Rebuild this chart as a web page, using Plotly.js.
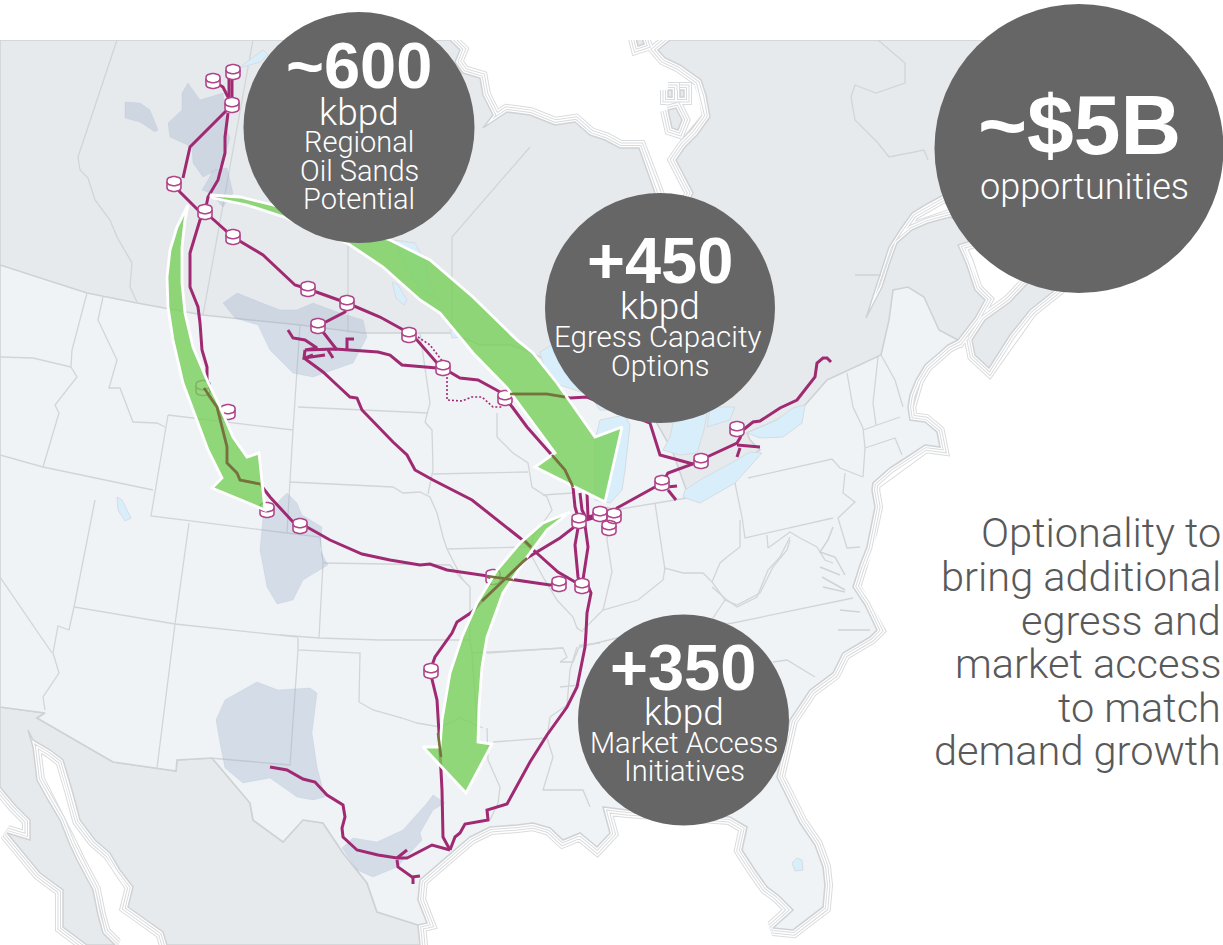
<!DOCTYPE html>
<html><head><meta charset="utf-8">
<script src="https://cdn.plot.ly/plotly-3.0.1.min.js"></script>
<style>html,body{margin:0;padding:0;background:#fff}#chart{width:1223px;height:945px}</style>
</head><body><div id="chart"></div>
<script>
// ---------- map geometry ----------
const landCanada=[[0,40],[450,40],[460,50],[455,62],[463,73],[480,78],[483,95],[493,115],[483,128],[507,112],[530,115],[555,125],[575,122],[590,135],[605,140],[620,148],[639,148],[647,170],[655,193],[672,235],[693,193],[676,160],[685,147],[697,135],[710,117],[706,95],[701,80],[680,65],[665,58],[658,50],[670,40],[1000,40],[1000,150],[947,193],[925,205],[912,213],[900,230],[889,247],[878,280],[866,318],[882,287],[890,262],[897,243],[912,230],[928,223],[950,217],[990,235],[958,245],[966,263],[975,290],[985,300],[975,318],[958,340],[920,340],[900,400],[760,470],[690,505],[600,450],[300,380],[0,300]];
const landNovaScotia=[[972,340],[975,355],[989,368],[1010,335],[1030,310],[1055,290],[1040,270],[1010,302],[985,320]];
const landIslandA=[[668,90],[672,90],[672,97],[668,97]];
const landIslandB=[[680,90],[684,90],[684,97],[680,97]];
const landIslandC=[[668,110],[676,108],[682,120],[678,130],[672,128]];
const landIslet=[[636,38],[642,38],[644,44],[638,46]];
const landUSA=[[0,265],[87,293],[137,303],[203,315],[300,325],[363,333],[452,333],[480,345],[510,345],[525,350],[540,357],[575,385],[610,375],[650,405],[655,420],[672,450],[687,492],[730,470],[760,450],[750,440],[747,433],[777,420],[805,405],[827,380],[881,355],[889,320],[893,290],[908,287],[924,297],[939,330],[958,340],[948,345],[939,353],[925,365],[916,380],[910,395],[908,407],[910,420],[925,422],[937,432],[940,447],[925,445],[907,457],[890,468],[873,483],[872,490],[875,507],[870,530],[867,547],[860,565],[853,587],[865,605],[877,630],[870,637],[843,653],[833,673],[810,690],[790,720],[777,777],[800,823],[815,845],[823,867],[825,885],[823,907],[793,930],[773,928],[793,910],[778,895],[767,887],[755,870],[742,850],[747,827],[730,817],[627,810],[603,807],[610,833],[597,847],[580,833],[563,840],[550,828],[533,823],[517,825],[490,827],[470,837],[455,850],[440,863],[420,880],[418,900],[427,923],[418,925],[377,912],[367,883],[343,853],[323,823],[303,820],[283,842],[253,820],[250,803],[212,758],[177,760],[176,771],[113,762],[37,718],[45,713],[0,707]];
const landMexico=[[0,707],[45,713],[37,718],[113,762],[176,771],[177,760],[212,758],[250,803],[253,820],[283,842],[303,820],[323,823],[343,853],[367,883],[377,912],[418,925],[420,945],[167,945],[163,932],[128,907],[133,887],[120,870],[110,853],[95,840],[80,820],[72,790],[63,760],[50,750],[33,740],[28,730],[33,747],[37,780],[48,800],[60,820],[70,845],[77,860],[93,890],[98,915],[103,933],[115,945],[87,945],[63,927],[63,890],[40,873],[7,833],[30,840],[30,820],[15,805],[0,787]];

const lakeAthabasca=[[240,67],[263,50],[268,55],[260,62],[243,67]];
const lakeWinnipeg=[[395,240],[415,243],[425,262],[430,285],[440,300],[420,290],[405,265]];
const lakeManitoba=[[392,282],[398,285],[407,300],[404,305],[396,298]];
const lakeOfWoods=[[450,330],[458,331],[461,337],[452,338]];
const lakeSuperior=[[540,352],[560,340],[640,340],[630,410],[600,410],[590,395],[560,385],[545,370]];
const lakeMichigan=[[600,420],[625,415],[630,425],[625,470],[622,490],[610,503],[595,500],[595,440]];
const lakeHuron=[[673,423],[707,413],[704,430],[697,453],[680,455],[663,450],[670,437]];
const lakeGeorgian=[[710,407],[735,407],[730,420],[707,427]];
const lakeErie=[[683,497],[700,503],[735,483],[762,453],[750,452],[733,462],[700,480],[685,490]];
const lakeOntario=[[747,433],[777,420],[793,408],[805,405],[802,423],[783,437],[760,438]];
const lakeSalt=[[117,497],[122,500],[131,518],[125,521],[118,510]];
const lakeOkeechobee=[[792,863],[797,858],[802,860],[803,870],[795,871]];

const basinPeace=[[125,102],[140,103],[150,110],[158,130],[155,132],[140,122],[125,118]];
const basinAthabasca=[[188,83],[200,100],[223,93],[227,130],[230,138],[225,155],[217,170],[203,177],[193,163],[192,147],[170,137],[168,123],[182,110],[182,93]];
const basinCold=[[213,170],[227,168],[233,193],[223,207],[210,193],[202,190],[208,180]];
const basinBakken=[[223,303],[237,293],[262,303],[280,310],[297,310],[313,303],[340,313],[363,320],[367,337],[353,363],[313,377],[293,373],[270,350],[258,325],[235,318]];
const basinPowder=[[287,493],[297,503],[302,515],[322,527],[320,550],[328,565],[303,580],[293,600],[277,604],[267,587],[260,550],[263,517],[275,505]];
const basinPermian=[[257,682],[278,690],[310,688],[317,693],[312,733],[317,767],[325,797],[313,800],[297,797],[270,778],[243,783],[225,768],[220,743],[216,720],[225,700]];
const basinEagleFord=[[433,795],[445,803],[433,810],[420,833],[422,840],[397,867],[373,877],[357,870],[342,848],[353,838],[377,842],[403,830],[427,803]];

const borderLines=[
 [[117,40],[78,157],[80,170],[88,178],[95,200],[110,220],[117,237],[132,263],[130,287],[137,302]],
 [[253,40],[203,315]],[[348,243],[348,333]],[[530,147],[452,237],[452,333]],
 [[878,40],[905,63],[905,83],[876,93],[855,85],[851,97],[855,120],[878,143],[889,157],[924,150],[928,160]],
 [[87,293],[72,350],[71,367],[77,377],[55,405],[59,413],[43,467]],[[0,357],[33,358],[71,367]],
 [[103,297],[98,320],[117,360],[109,388],[120,388],[133,422],[157,423],[165,427]],
 [[0,455],[43,467],[153,490]],[[168,415],[293,430]],[[168,415],[151,516],[287,533],[320,537],[323,563],[319,638]],
 [[300,325],[293,430],[287,533]],[[95,500],[74,607],[175,624],[298,637]],[[0,577],[52,653]],
 [[74,607],[69,630],[58,626],[53,653],[59,673],[43,697],[45,710]],[[189,523],[175,624],[157,768]],
 [[323,563],[450,565],[460,577],[470,587],[470,640]],[[280,635],[319,638],[380,640],[470,640],[472,653]],
 [[290,482],[393,487],[403,493],[420,492],[430,497],[437,513],[443,537],[447,549],[463,580]],
 [[298,407],[428,413]],[[420,333],[430,403],[425,422],[432,430],[433,470],[428,494]],[[433,474],[528,472]],
 [[447,549],[527,547]],[[497,413],[497,437],[513,453],[528,463],[532,487],[547,497],[552,510],[533,537],[530,553],[543,577],[557,600],[573,617],[577,628],[583,632]],
 [[543,495],[573,493]],[[607,507],[607,540],[612,572],[603,610],[583,630]],
 [[472,653],[563,648],[567,657],[560,662],[573,662],[580,645],[600,643]],
 [[298,638],[298,650],[360,653],[359,702],[373,710],[402,718],[417,723],[440,727],[460,718],[483,728]],[[298,650],[290,765],[210,758]],
 [[472,653],[477,723]],[[487,653],[563,648]],[[493,742],[547,738]],
 [[487,728],[488,760],[500,787],[498,803],[490,820]],[[547,738],[553,757],[543,790],[583,790],[590,807]],
 [[547,738],[550,717],[567,705],[570,670],[577,647]],[[560,687],[580,685]],[[580,647],[617,638],[733,623],[853,598]],
 [[773,662],[787,660],[815,677]],
 [[603,610],[638,600],[663,580],[665,568],[683,573],[703,573],[712,582],[725,600],[737,605],[760,593],[773,567],[787,550],[790,540]],
 [[725,600],[713,618]],[[712,582],[720,563],[727,557],[740,547],[740,520]],
 [[735,483],[742,517],[745,538],[833,518]],[[748,478],[832,459],[840,468],[863,477]],[[845,473],[843,493],[855,502],[838,518],[847,548],[860,547]],
 [[767,535],[768,548],[790,532],[800,538],[817,547],[825,560],[833,563]],
 [[790,537],[780,557],[768,570],[757,597],[737,607],[727,600],[712,587]],
 [[863,477],[865,448],[863,428],[853,407],[847,373]],[[878,357],[873,403],[876,425]],[[863,430],[900,417]],[[865,448],[895,438],[902,455]],[[881,355],[895,380],[903,407]],
 [[655,503],[665,570]],[[615,510],[655,503],[687,498]],[[607,507],[615,510]]
];
const coastInlets=[[[833,527],[828,540],[820,552],[835,557],[845,575]],[[820,567],[840,575]],[[822,577],[845,590]],[[823,587],[845,592]],[[840,610],[860,612]],[[838,630],[870,630]],[[855,275],[881,275]]];

// ---------- pipelines ----------
const pipeNorthA=[[232,105],[190,147],[183,178]];
const pipeNorthB=[[228,113],[225,137],[225,153],[218,180],[208,197],[205,212]];
const pipeNorthC=[[213,81],[223,87],[228,97],[231,105]];
const pipeNorthD=[[229,78],[229,105]];
const pipeNorthE=[[232,78],[232,105]];
const pipeHardisty=[[174,184],[180,192],[198,210],[205,212]];
const pipeMainline=[[205,212],[233,237],[263,255],[295,285],[308,289],[347,303],[380,317],[409,333]];
const pipeExpress=[[205,212],[200,220],[190,253],[190,287],[198,307],[200,323],[202,350],[207,367],[207,383],[203,388],[217,407],[227,447],[227,463],[237,473],[240,480],[260,484],[270,497],[280,508],[293,522],[307,527],[330,540],[362,554],[390,560],[420,565],[430,564],[447,570],[487,576],[493,577],[513,580],[550,585],[559,584]];
const pipeLinkA=[[347,303],[345,312],[318,326],[323,332],[337,350]];
const pipeBakken=[[288,330],[293,338],[305,340],[317,348],[305,350],[335,349],[378,352],[390,355],[402,365],[437,368]];
const stubBakkenA=[[305,350],[304,358],[325,355]];
const stubBakkenB=[[305,358],[313,355]];
const stubBakkenC=[[333,358],[328,350]];
const stubBakkenD=[[347,350],[347,339],[354,339]];
const pipeKeystone=[[304,358],[317,367],[323,372],[337,385],[350,397],[357,398],[362,410],[393,442],[407,455],[415,470],[433,480],[472,500],[520,538],[530,547],[558,572],[582,586]];
const pipeGretnaA=[[409,333],[417,340],[437,363],[443,368]];
const pipeClearbrook=[[443,368],[460,378],[478,380],[502,393],[505,398]];
const pipeLine5=[[505,398],[510,394],[547,394],[570,398],[587,397],[650,423],[660,455],[693,464]];
const pipeLine61=[[505,398],[513,408],[527,427],[550,453],[565,470],[573,487],[575,507],[578,517]];
const pipeChiA=[[580,493],[582,510],[586,518]];
const pipeChiB=[[587,493],[588,517],[600,514]];
const pipeChiC=[[586,520],[593,518],[600,514]];
const pipeChiD=[[578,528],[575,545],[578,577],[582,586]];
const pipeChiE=[[585,525],[588,547],[582,586]];
const pipeEast=[[614,516],[617,508],[655,487],[662,483],[668,473],[693,464],[701,461],[707,457],[737,443],[740,438],[743,430],[753,422],[760,421],[780,408],[797,400],[815,377],[817,363],[823,358],[827,358],[831,362]];
const stubOntA=[[737,445],[760,447]];
const stubOntB=[[740,448],[737,457]];
const stubSarniaA=[[667,487],[677,486]];
const stubSarniaB=[[668,490],[676,500]];
const pipeOzark=[[579,521],[573,528],[560,538],[543,548],[527,558],[507,577],[480,603],[472,612],[457,622],[452,633],[435,657],[430,671],[432,680],[437,700],[439,733],[442,790],[443,837],[450,850]];
const pipeTexasWest=[[450,850],[432,845],[407,858],[397,858],[378,855],[357,850],[343,837],[342,828],[345,817],[343,805],[327,795],[315,782],[303,779],[287,770],[270,767]];
const stubCorpusA=[[397,858],[407,850]];
const stubCorpusB=[[397,860],[398,867],[412,877],[420,876]];
const stubCorpusC=[[413,877],[413,884]];
const pipeGulf=[[450,850],[455,837],[460,833],[465,824],[488,820],[487,810],[507,804],[530,762],[547,735],[567,707],[577,687],[585,647],[586,633],[587,613],[591,593],[588,586]];
const pipeDashA=[[418,337],[430,345],[443,362]];
const pipeDashB=[[447,377],[447,400],[462,401],[472,397],[482,397],[493,407],[502,407]];
const pipesUnderArrows=[[[204,388],[217,407],[227,447],[227,463],[237,473],[240,480],[260,484]],[[510,394],[547,394],[565,397]],[[552,455],[565,470],[573,487]],[[438,733],[441,757]],[[527,558],[507,577],[482,601]],[[487,576],[513,580]],[[525,541],[531,547]]];

const terminals=[[213,81],[233,72],[232,105],[174,184],[205,212],[233,237],[308,289],[347,303],[318,326],[409,335],[443,368],[505,398],[203,388],[228,412],[267,510],[300,526],[493,577],[559,584],[582,586],[579,521],[600,514],[614,516],[609,528],[662,483],[701,461],[737,429],[431,671]];

// ---------- arrows ----------
const arrowWest=[[188,205],[177,227],[170,250],[167,277],[168,307],[173,340],[183,383],[197,420],[208,450],[222,478],[212,488],[265,510],[259,453],[247,457],[233,437],[220,407],[207,380],[193,347],[185,313],[182,283],[182,247],[185,220]];
const arrowEast=[[210,195],[240,197],[273,205],[330,222],[390,240],[430,260],[473,297],[517,340],[533,353],[557,383],[595,437],[622,427],[605,502],[535,467],[555,453],[533,423],[507,388],[473,353],[440,313],[420,300],[383,267],[347,243],[317,232],[287,218],[247,205],[213,198]];
const arrowSouth=[[570,512],[543,523],[520,543],[497,570],[477,603],[462,637],[450,673],[442,720],[440,747],[423,747],[466,793],[492,744],[478,742],[479,707],[482,667],[487,637],[503,593],[527,557],[547,530]];

// ---------- callouts ----------
const bubbleX=[359,660,1079,683.5];
const bubbleY=[127.5,308,148.5,720];
const bubbleD=[231,230,289,211];
const headlineText=['~600','+450','~$5B','+350'];
const headlineX=[359,660,1079,683];
const headlineY=[65,260,125,667];
const headlineSize=[65,65,84,65];
const subText=['kbpd','Regional','Oil Sands','Potential','kbpd','Egress Capacity','Options','opportunities','kbpd','Market Access','Initiatives'];
const subX=[359,359,359,359,660,657,660,1084,684,684,684];
const subY=[112,142,171,199,306,337,366,187,712,743,771];
const subSize=[37,29,29,29,37,29.5,29,36,37,29,29];
const noteText=['Optionality to','bring additional','egress and','market access','to match','demand growth'];
const noteY=[532,576,620,663,707,750];

// ---------- helpers ----------
function flat(list){const x=[],y=[];list.forEach((p,i)=>{if(i)(x.push(null),y.push(null));p.forEach(q=>{x.push(q[0]);y.push(q[1]);});});return {x,y};}
const closed=p=>p.concat([p[0]]);
const base={hoverinfo:'skip',showlegend:false,type:'scatter'};
function fillT(list,fill,line,w){const f=flat(list.map(closed));return Object.assign({},base,{x:f.x,y:f.y,mode:'lines',fill:'toself',fillcolor:fill,line:{color:line,width:w}});}
function lineT(list,color,w,dash){const f=flat(list);return Object.assign({},base,{x:f.x,y:f.y,mode:'lines',line:{color:color,width:w,dash:dash||'solid'}});}

const lands=[landCanada,landNovaScotia,landIslandA,landIslandB,landIslandC,landIslet];
const allCoast=lands.concat([landUSA,landMexico]).map(closed);
const ringGrey='#d9dbdd';
const traces=[];
[[16,ringGrey],[14,'#fff'],[11,ringGrey],[9,'#fff'],[6,ringGrey],[4,'#fff']].forEach(r=>traces.push(lineT(allCoast,r[1],r[0])));
traces.push(fillT([landMexico],'#e7eaed','#cfd2d5',1.5));
traces.push(fillT(lands,'#e7eaed','#cfd2d5',1.5));
traces.push(fillT([landUSA],'#eff3f6','#cfd2d5',1.6));
traces.push(lineT(borderLines,'#d2d5d8',1.3));
traces.push(lineT(coastInlets,'#d0d3d6',1.5));
traces.push(fillT([lakeAthabasca,lakeWinnipeg,lakeManitoba,lakeOfWoods,lakeSuperior,lakeMichigan,lakeHuron,lakeGeorgian,lakeErie,lakeOntario,lakeSalt,lakeOkeechobee],'#d9eefb','#d5dce2',1));
traces.push(fillT([basinPeace,basinAthabasca,basinCold,basinBakken,basinPowder,basinPermian,basinEagleFord],'rgba(150,170,200,0.3)','rgba(150,170,200,0.15)',1));
traces.push(Object.assign({},base,{x:[0,1223,1223,0,0],y:[0,0,40,40,0],mode:'lines',fill:'toself',fillcolor:'#fff',line:{width:0,color:'#fff'}}));
const pipeColor='#a02a72';
traces.push(lineT([pipeNorthA,pipeNorthB,pipeNorthC,pipeNorthD,pipeNorthE,pipeHardisty,pipeMainline,pipeExpress,pipeLinkA,pipeBakken,stubBakkenA,stubBakkenB,stubBakkenC,stubBakkenD,pipeKeystone,pipeGretnaA,pipeClearbrook,pipeLine5,pipeLine61,pipeChiA,pipeChiB,pipeChiC,pipeChiD,pipeChiE,pipeEast,stubOntA,stubOntB,stubSarniaA,stubSarniaB,pipeOzark,pipeTexasWest,stubCorpusA,stubCorpusB,stubCorpusC,pipeGulf],pipeColor,3));
traces.push(lineT([pipeDashA,pipeDashB],pipeColor,1.6,'2px,2px'));
// storage-tank symbols built from each terminal centre
function tankBody(c){const p=[];const rx=7,ry=3.8,h=3.8;for(let a=180;a<=360;a+=20){p.push([c[0]+rx*Math.cos(a*Math.PI/180),c[1]-h+ry*Math.sin(a*Math.PI/180)]);}for(let a=0;a<=180;a+=20){p.push([c[0]+rx*Math.cos(a*Math.PI/180),c[1]+h+ry*Math.sin(a*Math.PI/180)]);}return p;}
function tankBand(c){const p=[];const rx=7,ry=3.8;for(let a=0;a<=180;a+=20){p.push([c[0]+rx*Math.cos(a*Math.PI/180),c[1]-2+ry*Math.sin(a*Math.PI/180)]);}return p;}
traces.push(fillT(terminals.map(tankBody),'#fff','#b0458a',1.6));
traces.push(lineT(terminals.map(tankBand),'#b0458a',1.6));
traces.push(fillT([arrowWest,arrowEast,arrowSouth],'rgba(120,207,90,0.8)','#fff',2.8));
traces.push(lineT(pipesUnderArrows,'#78703f',2.6));
traces.push(Object.assign({},base,{x:bubbleX,y:bubbleY,mode:'markers',marker:{size:bubbleD,color:'#666666',opacity:1,line:{width:0}}}));

const txt=(t,x,y,size,w,color,anchor)=>({text:t,x:x,y:y,xref:'x',yref:'y',showarrow:false,xanchor:anchor||'center',yanchor:'middle',font:{family:w>=700?'"Liberation Sans",Arial,sans-serif':'Roboto,"Liberation Sans",sans-serif',size:size,color:color,weight:w},borderpad:0});
const ann=[];
headlineText.forEach((t,i)=>ann.push(txt(t,headlineX[i],headlineY[i],headlineSize[i],700,'#fff')));
subText.forEach((t,i)=>ann.push(txt(t,subX[i],subY[i],subSize[i],300,'#fff')));
noteText.forEach((t,i)=>ann.push(txt(t,1222,noteY[i],41.5,300,'#595959','right')));

Plotly.newPlot('chart',traces,{
 width:1223,height:945,margin:{l:0,r:0,t:0,b:0},paper_bgcolor:'#fff',plot_bgcolor:'#fff',showlegend:false,
 xaxis:{range:[0,1223],visible:false,fixedrange:true},
 yaxis:{range:[945,0],visible:false,fixedrange:true},
 annotations:ann,hovermode:false
},{displayModeBar:false,staticPlot:true});
</script></body></html>
